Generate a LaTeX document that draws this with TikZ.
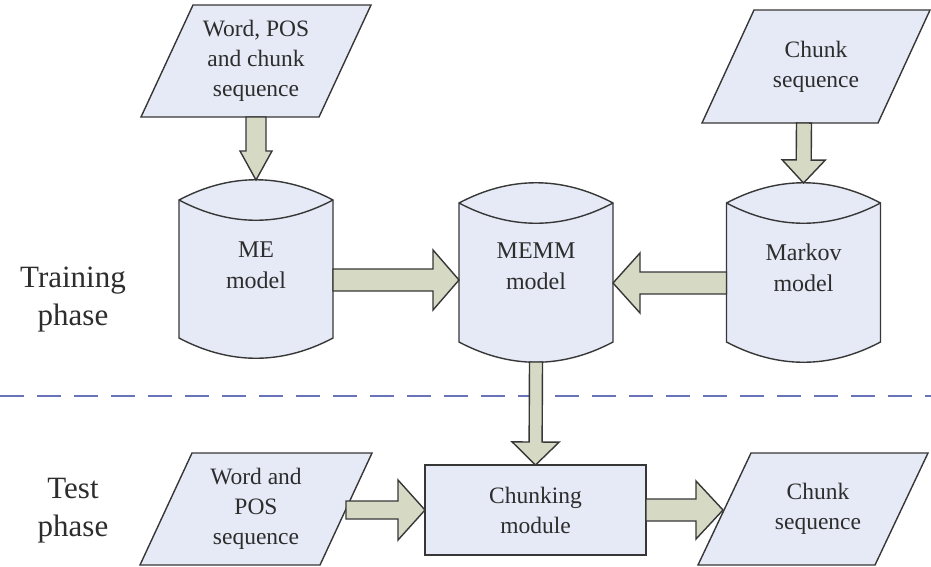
\documentclass[tikz,border=0pt]{standalone}
\usepackage{fontspec}
\setmainfont{Liberation Serif}
\usetikzlibrary{calc,backgrounds}
\definecolor{boxfill}{RGB}{229,234,246}
\definecolor{arrfill}{RGB}{214,217,196}
\definecolor{edgec}{RGB}{55,55,55}
\definecolor{dashc}{RGB}{105,115,185}
\definecolor{txtc}{RGB}{45,45,45}
\newcommand\fatarrow[5]{%
  \coordinate (fa-n) at ($(#2)!#5!(#1)$);
  \draw[fatarr] ($(#1)!#3!90:(#2)$) -- ($(fa-n)!#3!90:(#2)$) -- ($(fa-n)!#4!90:(#2)$) -- (#2)
     -- ($(fa-n)!#4!-90:(#2)$) -- ($(fa-n)!#3!-90:(#2)$) -- ($(#1)!#3!-90:(#2)$) -- cycle;}
\newcommand\cylshape[1]{%
  \path[shp] ([yshift=-20pt]#1.north west) .. controls +(51,-27) and +(-51,-27) .. ([yshift=-20pt]#1.north east)
     -- ([yshift=20pt]#1.south east) .. controls +(-51,27) and +(51,27) .. ([yshift=20pt]#1.south west) -- cycle;
  \draw[shpline] ([yshift=-20pt]#1.north west) .. controls +(51,27) and +(-51,27) .. ([yshift=-20pt]#1.north east);}
\newcommand\parashape[2]{%
  \path[shp] (#1.south west) -- ($(#1.north west)+(#2,0)$) -- (#1.north east) -- ($(#1.south east)+(-#2,0)$) -- cycle;}
\tikzset{
  shp/.style={draw=edgec, fill=boxfill, line width=1.4pt, line join=miter},
  shpline/.style={draw=edgec, line width=1.4pt},
  fatarr/.style={draw=edgec, fill=arrfill, line width=1.4pt, line join=miter},
  holder/.style={inner sep=0pt, outer sep=0pt, text=txtc, align=center, font=\fontsize{23.5}{30}\selectfont},
  txtn/.style={inner sep=0pt, text=txtc, align=center, font=\fontsize{24}{31}\selectfont},
  phase/.style={inner sep=0pt, text=txtc, align=center, font=\fontsize{31}{38}\selectfont},
  dashline/.style={draw=dashc, line width=2.6pt, dash pattern=on 24pt off 13pt},
}
\begin{document}
\begin{tikzpicture}[x=1pt, y=-1pt]
\useasboundingbox (0,0) rectangle (931,566);

% holders (shape extents) with text
\node[holder, minimum width=230pt, minimum height=112pt] (p1) at (256,61) {Word, POS\\and chunk\\sequence};
\node[holder, minimum width=228pt, minimum height=113pt] (p2) at (816,66.5) {Chunk\\sequence};
\node[holder, minimum width=232pt, minimum height=112pt] (p3) at (256,509) {Word and\\POS\\sequence};
\node[holder, minimum width=230pt, minimum height=112pt] (p4) at (813,509) {\hspace*{10pt}Chunk\\\hspace*{10pt}sequence};
\node[holder, minimum width=221pt, minimum height=90pt] (chunk) at (535.5,510) {Chunking\\module};

\node[holder, minimum width=154pt, minimum height=178pt] (me) at (256,269) {};
\node[holder, minimum width=154pt, minimum height=179pt] (memm) at (536,272.5) {};
\node[holder, minimum width=154pt, minimum height=179pt] (markov) at (803.5,272.5) {};

\node[txtn] (meT) at ([yshift=4pt]me.center) {ME\\model};
\node[txtn] (memmT) at ([yshift=6pt]memm.center) {MEMM\\model};
\node[txtn] (markovT) at ([yshift=5pt]markov.center) {Markov\\model};

\node[phase] (train) at (73,300) {Training\\phase};
\node[phase] (test) at (73,511) {Test\\phase};

\begin{scope}[on background layer]
  \fill[white] (0,0) rectangle (931,566);
  \parashape{p1}{52}
  \parashape{p2}{52}
  \parashape{p3}{52}
  \parashape{p4}{53}
  \path[shp] (chunk.north west) rectangle (chunk.south east);
  \cylshape{me}
  \cylshape{memm}
  \cylshape{markov}
  \draw[dashline] (0,396) -- (931,396);
\end{scope}

% connector end points
\coordinate (meOut) at ($(me.east)+(0,11)$);
\coordinate (memmInL) at ($(memm.west)+(0,7.5)$);
\coordinate (markovOut) at ($(markov.west)+(0,10.5)$);
\coordinate (memmInR) at ($(memm.east)+(0,10.5)$);
\coordinate (p2Out) at ($(p2.south)+(-12,0)$);
\coordinate (p3Out) at ($(p3.east)+(-26,1)$);
\coordinate (p4In) at ($(p4.west)+(25,1)$);

\fatarrow{p1.south}{me.north}{10pt}{16pt}{29pt}
\fatarrow{meOut}{memmInL}{11pt}{30pt}{26pt}
\fatarrow{markovOut}{memmInR}{11pt}{30pt}{27pt}
\fatarrow{p2Out}{markov.north}{7.5pt}{21.5pt}{23pt}
\fatarrow{memm.south}{chunk.north}{6.5pt}{23.5pt}{23pt}
\fatarrow{p3Out}{chunk.west}{9pt}{30pt}{27pt}
\fatarrow{chunk.east}{p4In}{11pt}{29pt}{27pt}
\end{tikzpicture}
\end{document}
